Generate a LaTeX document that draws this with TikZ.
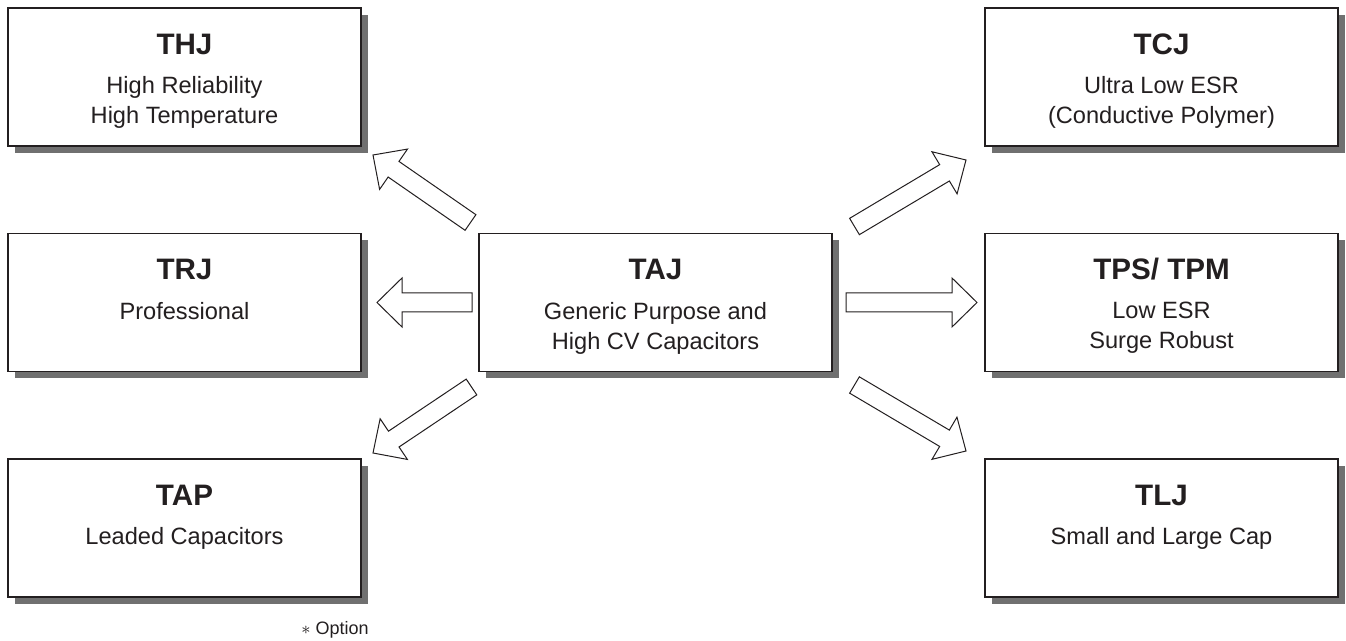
\documentclass[tikz,border=0pt]{standalone}
\usepackage{fontspec}
\setmainfont{Liberation Sans}
\usetikzlibrary{calc,shadows}
\definecolor{shadowgray}{RGB}{112,112,112}
\definecolor{inkdark}{RGB}{35,31,32}
\newcommand{\fatarrow}[2]{%
  \coordinate (hb) at ($(#2)!12.5pt!(#1)$);
  \draw[fat] ($(#1)!4.75pt!90:(#2)$) -- ($(hb)!4.75pt!90:(#2)$) -- ($(hb)!12.25pt!90:(#2)$) -- (#2)
    -- ($(hb)!12.25pt!-90:(#2)$) -- ($(hb)!4.75pt!-90:(#2)$) -- ($(#1)!4.75pt!-90:(#2)$) -- cycle;}

\begin{document}
\begin{tikzpicture}[x=0.5pt, y=-0.5pt,
  box/.style={draw=inkdark, line width=0.6pt, fill=white, minimum width=176.5pt, minimum height=69pt, inner sep=0pt,
    drop shadow={fill=shadowgray, opacity=1, shadow xshift=3.5pt, shadow yshift=-3.5pt}},
  title/.style={font=\bfseries\fontsize{14.8}{17}\selectfont, text=inkdark, anchor=base, inner sep=0pt},
  body/.style={font=\fontsize{11.8}{15}\selectfont, text=inkdark, align=center, anchor=north, inner sep=0pt},
  fat/.style={draw=inkdark, line width=0.5pt, fill=white, line join=miter}]
\useasboundingbox (0,0) rectangle (1346,641);
\node[box] (thj) at (184.5,77) {};    \node[title] (thj-t) at ($(thj.north)+(0,47)$) {THJ};
\node[box] (trj) at (184.5,302.5) {}; \node[title] (trj-t) at ($(trj.north)+(0,47)$) {TRJ};
\node[box] (tap) at (184.5,528) {};   \node[title] (tap-t) at ($(tap.north)+(0,47)$) {TAP};
\node[box] (taj) at (655.5,302.5) {}; \node[title] (taj-t) at ($(taj.north)+(0,47)$) {TAJ};
\node[box] (tcj) at (1161.5,77) {};   \node[title] (tcj-t) at ($(tcj.north)+(0,47)$) {TCJ};
\node[box] (tps) at (1161.5,302.5) {};\node[title] (tps-t) at ($(tps.north)+(0,47)$) {TPS/ TPM};
\node[box] (tlj) at (1161.5,528) {};  \node[title] (tlj-t) at ($(tlj.north)+(0,47)$) {TLJ};
\node[body] (thj-b) at ($(thj.north)+(0,69)$) {High Reliability\\High Temperature};
\node[body] (trj-b) at ($(trj.north)+(0,69)$) {Professional};
\node[body] (tap-b) at ($(tap.north)+(0,69)$) {Leaded Capacitors};
\node[body] (taj-b) at ($(taj.north)+(0,69)$) {Generic Purpose and\\High CV Capacitors};
\node[body] (tcj-b) at ($(tcj.north)+(0,69)$) {Ultra Low ESR\\(Conductive Polymer)};
\node[body] (tps-b) at ($(tps.north)+(0,69)$) {Low ESR\\Surge Robust};
\node[body] (tlj-b) at ($(tlj.north)+(0,69)$) {Small and Large Cap};
% arrow ends
\coordinate (lu0) at (470.5,222.5); \coordinate (lu1) at (373,155);
\coordinate (l0) at (472,302.5);    \coordinate (l1) at (377,302.5);
\coordinate (ld0) at (471.5,387);   \coordinate (ld1) at (373,453);
\coordinate (ru0) at (854.5,226.5); \coordinate (ru1) at (966,160);
\coordinate (r0) at (846,302.5);    \coordinate (r1) at (977,302.5);
\coordinate (rd0) at (854.5,385);   \coordinate (rd1) at (966,451);
\foreach \a in {lu,l,ld,ru,r,rd} \fatarrow{\a0}{\a1};
\node[anchor=base west, font=\fontsize{9}{11}\selectfont, text=inkdark, inner sep=0pt] (opt) at (301,635) {$\ast$ Option};
\end{tikzpicture}
\end{document}
